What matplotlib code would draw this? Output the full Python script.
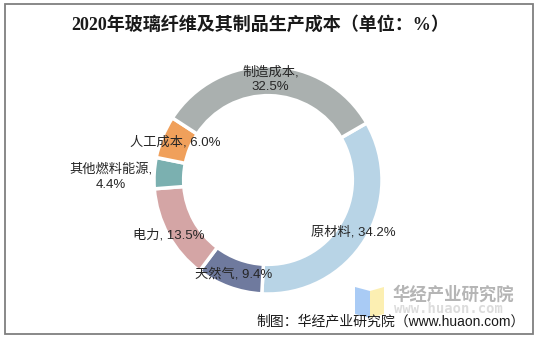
import matplotlib
matplotlib.use("Agg")
import matplotlib.pyplot as plt
import matplotlib.patches as mpatches
import numpy as np

# data (clockwise from ~1 o'clock)
categories = ['原材料', '天然气', '电力', '其他燃料能源', '人工成本', '制造成本']
values = [34.2, 9.4, 13.5, 4.4, 6.0, 32.5]
label_texts = ['原材料, 34.2%', '天然气, 9.4%', '电力, 13.5%',
               '其他燃料能源,\n4.4%', '人工成本, 6.0%', '制造成本,\n32.5%']
colors = ['#B8D4E6', '#6F7A9E', '#D4A5A5', '#7BB0B0', '#F0A05B', '#AAB0AF']

W, H = 537, 338
fig = plt.figure(figsize=(W / 100, H / 100), dpi=100)

lab_font = ['Liberation Sans', 'Noto Sans CJK SC']

# donut axes: centre (268,180) px, radius 114 px
cx, cy, R = 268, 180, 114
ax = fig.add_axes([(cx - R) / W, 1 - (cy + R) / H, 2 * R / W, 2 * R / H])

start = 30
wedges, _ = ax.pie(values, colors=colors, startangle=start, counterclock=False,
                   radius=1.0, wedgeprops=dict(width=0.26, edgecolor='white', linewidth=2.5))
ax.set_xlim(-1, 1)
ax.set_ylim(-1, 1)
ax.set_aspect('equal')
ax.axis('off')

# labels at ring centre, small slice pushed outside
radii = [0.88, 0.88, 0.9, 1.38, 0.88, 0.88]
cum = np.cumsum([0] + values[:-1])
for i, txt in enumerate(label_texts):
    mid = np.deg2rad(start - (cum[i] + values[i] / 2) * 3.6)
    x, y = radii[i] * np.cos(mid), radii[i] * np.sin(mid)
    if i == 2:
        x -= 0.08
        y -= 0.05
    if i == 3:
        y -= 0.06
    ax.text(x, y, txt, ha='center', va='center', fontsize=9.5, color='#262626',
            family=lab_font, linespacing=1.25)

# title
fig.text(0.485, 1 - 25 / H, '2020年玻璃纤维及其制品生产成本（单位：%）', ha='center', va='center',
         fontsize=13, fontweight='bold', family=['Liberation Serif', 'Noto Sans CJK SC'],
         color='#1a1a1a')

# frame
fig.patches.append(mpatches.Rectangle((5 / W, 1 - 334 / H), 528 / W, 330 / H,
                                      transform=fig.transFigure, fill=False,
                                      edgecolor='#7f7f7f', linewidth=1.3))

# watermark logo
def px(x, y):
    return (x / W, 1 - y / H)

fig.patches.append(mpatches.Polygon([px(355, 287), px(370, 291), px(370, 318), px(355, 314)],
                                    closed=True, transform=fig.transFigure,
                                    facecolor='#A9CBF5', edgecolor='none', zorder=1))
fig.patches.append(mpatches.Polygon([px(370, 291), px(384, 287), px(384, 314), px(370, 318)],
                                    closed=True, transform=fig.transFigure,
                                    facecolor='#FCEFB2', edgecolor='none', zorder=1))
fig.text(392 / W, 1 - 295 / H, '华经产业研究院', ha='left', va='center', fontsize=12.5,
         fontweight='bold', color='#B5B5B5', family=['Noto Sans CJK SC'], zorder=1)
fig.text(394 / W, 1 - 309 / H, 'www.huaon.com', ha='left', va='center', fontsize=10,
         fontweight='bold', color='#DCDCDC', family=['DejaVu Sans Mono'], zorder=1)

# source
fig.text(525 / W, 1 - 321 / H, '制图：华经产业研究院（www.huaon.com）', ha='right', va='center',
         fontsize=10, color='#1a1a1a', family=lab_font, zorder=5)

fig.savefig('out.png', dpi=100)
